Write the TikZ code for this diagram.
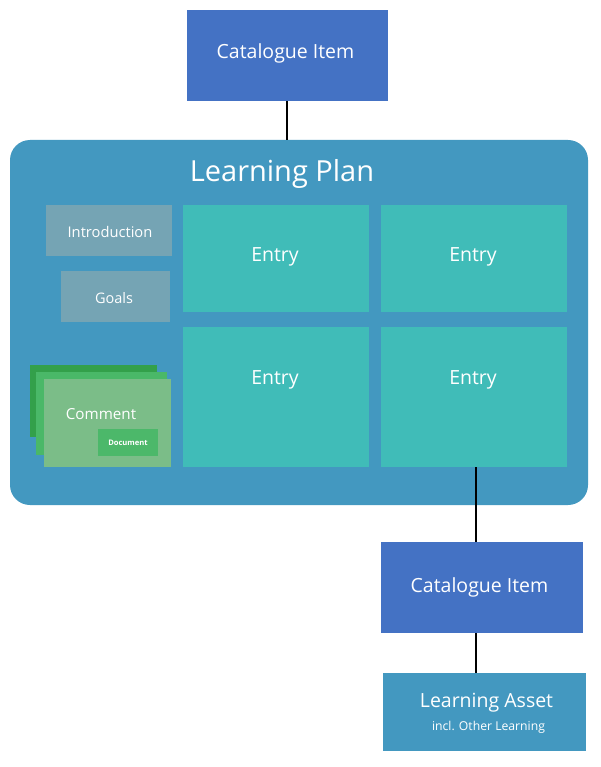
\documentclass[tikz,border=0pt]{standalone}
\usepackage{fontspec}
\setmainfont{Open Sans}
\definecolor{cblue}{HTML}{4472C4}
\definecolor{pblue}{HTML}{4398C0}
\definecolor{greyb}{HTML}{75A4B4}
\definecolor{teal}{HTML}{40BCB8}
\definecolor{dgreen}{HTML}{33A04A}
\definecolor{mgreen}{HTML}{4AB868}
\definecolor{lgreen}{HTML}{7BBD88}
\definecolor{docgreen}{HTML}{4CB86A}
\begin{document}
\begin{tikzpicture}[x=1pt,y=-1pt,
  box/.style={inner sep=0pt,outer sep=0pt,text=white},
  big/.style={box,font=\fontsize{19.5}{21}\selectfont},
  conn/.style={line width=1.5pt,black}]
\useasboundingbox (0,0) rectangle (600,767);
\fill[cblue] (187,10) rectangle (388,101);
\node[big] (cat1) at (285.5,53.5) {Catalogue Item};
\coordinate (cat1b) at (287,101);
\fill[pblue,rounded corners=20pt] (10,140) rectangle (588,505);
\coordinate (lpt) at (287,140);
\node[box,font=\fontsize{29}{32}\selectfont] (lp) at (282,174) {Learning Plan};
\fill[greyb] (46,205) rectangle (172,256);
\node[box,font=\fontsize{14.7}{16}\selectfont] (intro) at (110,232) {Introduction};
\fill[greyb] (61,271) rectangle (170,322);
\node[box,font=\fontsize{14.5}{16}\selectfont] (goals) at (114,298) {Goals};
\fill[teal] (183,205) rectangle (369,312);
\node[big] (e1) at (275,256.5) {Entry};
\fill[teal] (381,205) rectangle (567,312);
\node[big] (e2) at (473,256.5) {Entry};
\fill[teal] (183,327) rectangle (369,467);
\node[big] (e3) at (275,379.5) {Entry};
\fill[teal] (381,327) rectangle (567,467);
\node[big] (e4) at (473,379.5) {Entry};
\coordinate (e4b) at (476,467);
% comment stack
\fill[dgreen] (30,365) rectangle (157,437);
\fill[mgreen] (36,372) rectangle (167,455);
\fill[lgreen] (44,379) rectangle (171,467);
\node[box,font=\fontsize{15.2}{17}\selectfont] (comment) at (101,414.5) {Comment};
\fill[docgreen] (98,429) rectangle (158,456);
\node[box,font=\bfseries\fontsize{7.6}{8}\selectfont] (doc) at (128,443) {Document};
% lower
\fill[cblue] (381,542) rectangle (583,633);
\node[big] (cat2) at (479.5,587.5) {Catalogue Item};
\coordinate (cat2t) at (476,542);
\coordinate (cat2b) at (476,633);
\fill[pblue] (383,673) rectangle (586,751);
\node[big] (la) at (486.5,702.5) {Learning Asset};
\node[box,font=\fontsize{12.2}{14}\selectfont] (incl) at (488.5,727.5) {incl. Other Learning};
\coordinate (lat) at (476,673);
\draw[conn] (cat1b) -- (lpt);
\draw[conn] (e4b) -- (cat2t);
\draw[conn] (cat2b) -- (lat);
\end{tikzpicture}
\end{document}
